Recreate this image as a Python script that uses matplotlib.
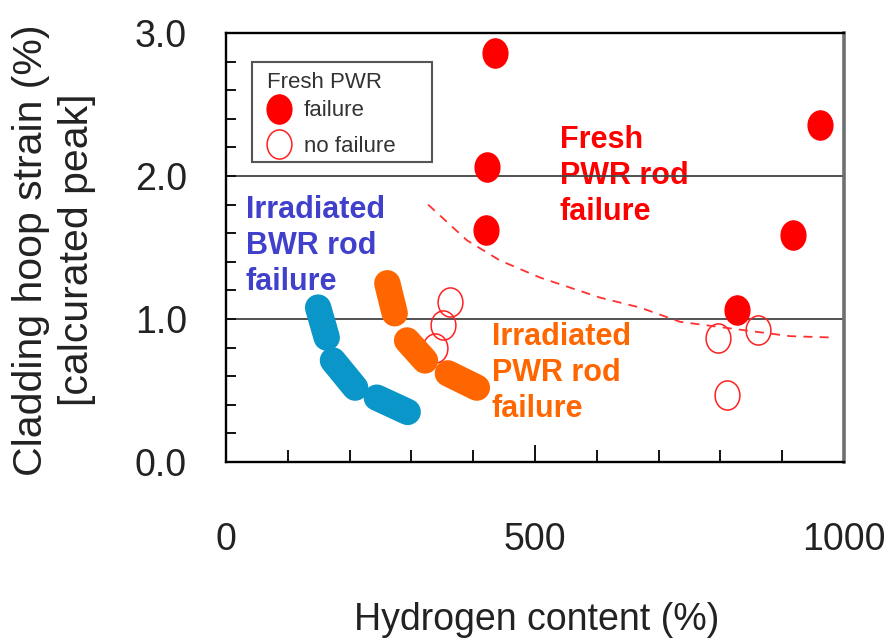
import matplotlib
matplotlib.use("Agg")
import matplotlib.pyplot as plt
from matplotlib.path import Path
from matplotlib.lines import Line2D
from matplotlib.patches import Rectangle
from matplotlib.ticker import MultipleLocator

plt.rcParams['font.family'] = ['Liberation Sans', 'DejaVu Sans']

# Fresh PWR rods (hydrogen content vs peak hoop strain)
fresh_fail_h = [435, 422, 421, 961, 917, 827]
fresh_fail_strain = [2.86, 2.06, 1.62, 2.36, 1.59, 1.06]
fresh_ok_h = [362, 351, 338, 796, 861, 811]
fresh_ok_strain = [1.12, 0.96, 0.80, 0.87, 0.92, 0.47]

# Failure bands for irradiated rods, drawn as short thick strokes
bwr_h = [[149, 163], [173, 209], [244, 294]]
bwr_strain = [[1.08, 0.87], [0.71, 0.52], [0.45, 0.35]]
pwr_h = [[261, 273], [293, 322], [359, 406]]
pwr_strain = [[1.25, 1.04], [0.85, 0.71], [0.62, 0.52]]

# Fresh PWR failure threshold (dashed)
thr_h = [327, 390, 443, 508, 605, 670, 735, 859, 913, 985]
thr_strain = [1.80, 1.55, 1.41, 1.29, 1.15, 1.08, 0.98, 0.91, 0.88, 0.87]

RED = '#ff0000'
BLUE_BAND = '#0a96c8'
ORANGE = '#ff6600'

# slightly tall ellipse marker
circ = Path.unit_circle()
ellipse = Path(circ.vertices * [0.85, 1.0], circ.codes)

fig = plt.figure(figsize=(8.93, 6.4), dpi=100)
ax = fig.add_axes([226 / 893, 1 - 462 / 640, 618 / 893, 429 / 640])

ax.set_xlim(0, 1000)
ax.set_ylim(0, 3.0)

# horizontal reference lines at the major strain ticks
ax.yaxis.set_major_locator(MultipleLocator(1.0))
ax.yaxis.set_minor_locator(MultipleLocator(0.2))
ax.xaxis.set_major_locator(MultipleLocator(500))
ax.xaxis.set_minor_locator(MultipleLocator(100))
ax.grid(True, axis='y', which='major', color='#444444', lw=1.3, zorder=1)
ax.set_axisbelow(True)

for xs, ys in zip(bwr_h, bwr_strain):
    ax.plot(xs, ys, color=BLUE_BAND, lw=19, solid_capstyle='round', zorder=3)
ax.plot(fresh_ok_h, fresh_ok_strain, ls='none', marker=ellipse, ms=21,
        mfc='none', mec='#ff2020', mew=1.1, zorder=3)
for xs, ys in zip(pwr_h, pwr_strain):
    ax.plot(xs, ys, color=ORANGE, lw=19, solid_capstyle='round', zorder=4)
ax.plot(fresh_fail_h, fresh_fail_strain, ls='none', marker=ellipse, ms=21,
        mfc=RED, mec=RED, zorder=5)
ax.plot(thr_h, thr_strain, color='#ff3030', lw=1.3, dashes=(5, 4), zorder=3)

# region labels (anchored on the baseline of the last line)
ax.text(32, 1.203, 'Irradiated\nBWR rod\nfailure', color='#4040cc',
        fontsize=22, fontweight='bold', ha='left', va='baseline',
        linespacing=1.27, zorder=2)
ax.text(540, 1.692, 'Fresh\nPWR rod\nfailure', color=RED,
        fontsize=22, fontweight='bold', ha='left', va='baseline',
        linespacing=1.27, zorder=0.5)
ax.text(430, 0.315, 'Irradiated\nPWR rod\nfailure', color=ORANGE,
        fontsize=22, fontweight='bold', ha='left', va='baseline',
        linespacing=1.27, zorder=2)

# axes frame
for side in ('left', 'bottom', 'top'):
    ax.spines[side].set_linewidth(1.7)
    ax.spines[side].set_color('black')
ax.spines['right'].set_linewidth(2.6)
ax.spines['right'].set_color('#707070')

ax.tick_params(axis='both', which='both', direction='in', width=1.4,
               top=False, right=False, colors='#111111')
ax.tick_params(axis='y', which='both', length=7, pad=28, labelsize=27)
ax.tick_params(axis='x', which='major', length=12, pad=43, labelsize=27)
ax.tick_params(axis='x', which='minor', length=8.5)
ax.set_xticks([0, 500, 1000])
ax.set_xticklabels(['0', '500', '1000'])
ax.set_yticks([0, 1, 2, 3])
ax.set_yticklabels(['0.0', '1.0', '2.0', '3.0'])
for lbl in ax.get_xticklabels() + ax.get_yticklabels():
    lbl.set_color('#222222')

fig.text(537 / 893, 1 - 620 / 640, 'Hydrogen content (%)', fontsize=27,
         color='#222222', ha='center', va='center')
fig.text(54 / 893, 1 - 250 / 640,
         'Cladding hoop strain (%)\n[calcurated peak]', fontsize=29.5,
         color='#222222', ha='center', va='center', rotation=90,
         multialignment='center', linespacing=1.25)

# legend: boxed, with a plain left-aligned heading
ax.add_patch(Rectangle((0.042, 0.699), 0.291, 0.233, transform=ax.transAxes,
                       facecolor='white', edgecolor='#555555', lw=1.5,
                       zorder=6))
ax.text(0.066, 0.884, 'Fresh PWR', transform=ax.transAxes, fontsize=16,
        color='#333333', ha='left', va='center', zorder=7)
handles = [
    Line2D([], [], ls='none', marker=ellipse, ms=21, mfc=RED, mec=RED),
    Line2D([], [], ls='none', marker=ellipse, ms=21, mfc='none',
           mec='#ff2020', mew=1.1),
]
leg = ax.legend(handles, ['failure', 'no failure'], loc='upper left',
                bbox_to_anchor=(0.0574, 0.843), borderaxespad=0,
                borderpad=0, fontsize=16, frameon=False,
                handlelength=1.6, handletextpad=0.3, labelspacing=0.66)
leg.set_zorder(8)
for t in leg.get_texts():
    t.set_color('#333333')

fig.savefig('out.png', dpi=100, facecolor='white')
